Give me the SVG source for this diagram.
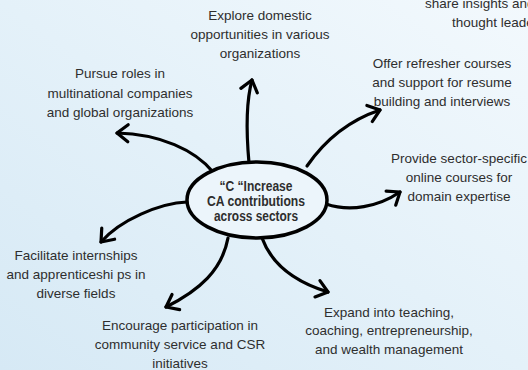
<svg xmlns="http://www.w3.org/2000/svg" width="528" height="370" viewBox="0 0 528 370">
<defs>
<linearGradient id="bg" x1="0" y1="1" x2="1" y2="0">
<stop offset="0" stop-color="#d6e9f5"/>
<stop offset="0.5" stop-color="#e4f1f9"/>
<stop offset="1" stop-color="#f3f9fd"/>
</linearGradient>
<marker id="arrow" markerUnits="userSpaceOnUse" viewBox="-14 -11 16 22" markerWidth="16" markerHeight="22" refX="0" refY="0" orient="auto" overflow="visible">
<path d="M-11,-8.5 L0,0 L-11,8.5" fill="none" stroke="#000" stroke-width="3.2" stroke-linecap="round" stroke-linejoin="round"/>
</marker>
</defs>
<style>
.lbl{font-family:"Liberation Sans",Arial,sans-serif;font-size:13.5px;fill:#2e2e2e;text-anchor:middle}
.ctr{font-family:"Liberation Sans",Arial,sans-serif;font-size:14px;font-weight:bold;fill:#2e2e2e;text-anchor:middle}
.con{fill:none;stroke:#000;stroke-width:3.2;stroke-linecap:round;marker-end:url(#arrow)}
</style>
<rect width="528" height="370" fill="url(#bg)"/>
<g id="connectors">
<path class="con" d="M249,163 C246,130 246,102 252,80"/>
<path class="con" d="M213,172 C195,150 160,134 117,133"/>
<path class="con" d="M307,166 C325,140 350,120 380,110"/>
<path class="con" d="M326,204 C350,212 378,207 400,192"/>
<path class="con" d="M187,202 C160,203 120,220 101,242"/>
<path class="con" d="M228,238 C222,270 200,290 166,307"/>
<path class="con" d="M262,238 C272,265 295,282 328,292"/>
</g>
<g id="center">
<ellipse cx="257" cy="200" rx="70" ry="38" fill="#ecf5fb" stroke="#000" stroke-width="3.5"/>
<text class="ctr" x="256" y="191" textLength="73" lengthAdjust="spacingAndGlyphs">“C “Increase</text>
<text class="ctr" x="256" y="206" textLength="98" lengthAdjust="spacingAndGlyphs">CA contributions</text>
<text class="ctr" x="256" y="221" textLength="84" lengthAdjust="spacingAndGlyphs">across sectors</text>
</g>
<g id="n-thought">
<text class="lbl" style="text-anchor:start" x="425" y="8">share insights and</text>
<text class="lbl" style="text-anchor:start" x="452" y="27">thought leade</text>
</g>
<g id="n-explore">
<text class="lbl" x="260" y="20">Explore domestic</text>
<text class="lbl" x="260" y="39">opportunities in various</text>
<text class="lbl" x="260" y="58">organizations</text>
</g>
<g id="n-pursue">
<text class="lbl" x="120" y="78">Pursue roles in</text>
<text class="lbl" x="120" y="97.5">multinational companies</text>
<text class="lbl" x="120" y="117">and global organizations</text>
</g>
<g id="n-offer">
<text class="lbl" x="442" y="68">Offer refresher courses</text>
<text class="lbl" x="442" y="87">and support for resume</text>
<text class="lbl" x="442" y="106">building and interviews</text>
</g>
<g id="n-provide">
<text class="lbl" x="459" y="163">Provide sector-specific</text>
<text class="lbl" x="459" y="182">online courses for</text>
<text class="lbl" x="459" y="201">domain expertise</text>
</g>
<g id="n-facilitate">
<text class="lbl" x="76" y="260">Facilitate internships</text>
<text class="lbl" x="76" y="279">and apprenticeshi ps in</text>
<text class="lbl" x="76" y="298">diverse fields</text>
</g>
<g id="n-encourage">
<text class="lbl" x="180" y="330">Encourage participation in</text>
<text class="lbl" x="180" y="349">community service and CSR</text>
<text class="lbl" x="180" y="368">initiatives</text>
</g>
<g id="n-expand">
<text class="lbl" x="389" y="317">Expand into teaching,</text>
<text class="lbl" x="389" y="335">coaching, entrepreneurship,</text>
<text class="lbl" x="389" y="354">and wealth management</text>
</g>
</svg>
